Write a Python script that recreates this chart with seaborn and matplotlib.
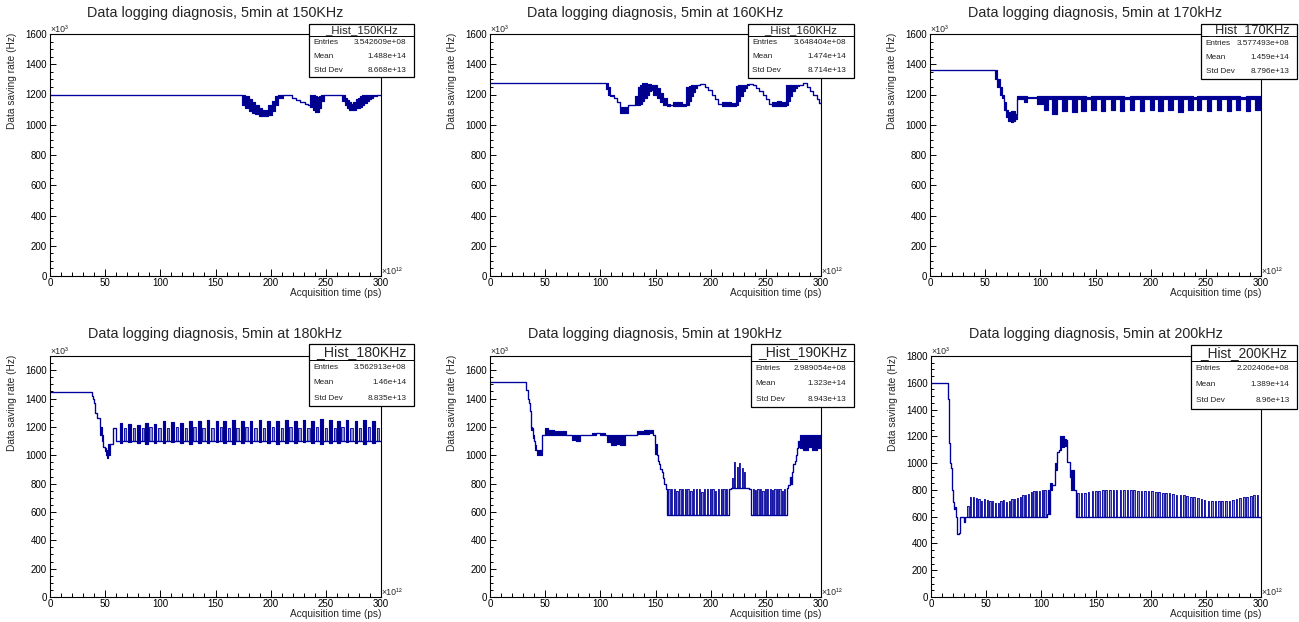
import matplotlib
matplotlib.use("Agg")
import matplotlib.pyplot as plt
from matplotlib.patches import Rectangle
from matplotlib.lines import Line2D
from matplotlib.ticker import MultipleLocator
import pandas as pd
import seaborn as sns

# ---------------------------------------------------------------- data
titles = ["Data logging diagnosis, 5min at 150KHz", "Data logging diagnosis, 5min at 160KHz",
          "Data logging diagnosis, 5min at 170kHz", "Data logging diagnosis, 5min at 180kHz",
          "Data logging diagnosis, 5min at 190kHz", "Data logging diagnosis, 5min at 200kHz"]
hist_names = ["_Hist_150KHz", "_Hist_160KHz", "_Hist_170KHz", "_Hist_180KHz", "_Hist_190KHz", "_Hist_200KHz"]
stat_labels = ["Entries", "Mean", "Std Dev"]
entries = ["3.542609e+08", "3.648404e+08", "3.577493e+08", "3.562913e+08", "2.989054e+08", "2.202406e+08"]
means = ["1.488e+14", "1.474e+14", "1.459e+14", "1.46e+14", "1.323e+14", "1.389e+14"]
stds = ["8.668e+13", "8.714e+13", "8.796e+13", "8.835e+13", "8.943e+13", "8.96e+13"]
y_max = [1600, 1600, 1600, 1700, 1700, 1800]
x_max = 300
x_label = "Acquisition time (ps)"
y_label = "Data saving rate (Hz)"

# step histograms: bin edge (x1e12 ps), upper / lower envelope (x1e3 Hz)
t150 = [0, 174, 177, 180, 183, 186, 189, 192, 195, 198, 201, 204, 207, 211, 215, 219, 223, 227, 231, 234,
        236, 238, 240, 242, 244, 246, 248, 263, 265, 267, 269, 271, 273, 275, 277, 279, 281, 283, 285, 287,
        289, 291, 293, 296, 300]
hi150 = [1200, 1200, 1190, 1170, 1150, 1130, 1110, 1100, 1100, 1130, 1160, 1190, 1200, 1200, 1195, 1180, 1165, 1150, 1140, 1130,
         1200, 1200, 1190, 1185, 1190, 1200, 1200, 1200, 1195, 1180, 1165, 1150, 1140, 1150, 1170, 1180, 1190, 1195, 1200, 1200,
         1200, 1200, 1200, 1200, 1200]
lo150 = [1200, 1130, 1110, 1090, 1080, 1070, 1060, 1060, 1055, 1065, 1090, 1130, 1180, 1200, 1195, 1180, 1165, 1150, 1140, 1130,
         1120, 1100, 1085, 1085, 1110, 1160, 1200, 1200, 1160, 1130, 1110, 1100, 1095, 1100, 1110, 1110, 1120, 1130, 1145, 1160,
         1170, 1180, 1190, 1200, 1200]

t160 = [0, 105, 107, 109, 112, 115, 118, 121, 125, 128, 131, 134, 136, 138, 140, 142, 144, 146, 148, 151,
        154, 157, 160, 163, 166, 170, 174, 178, 180, 182, 184, 186, 188, 190, 192, 195, 198, 201, 204, 207,
        210, 214, 218, 223, 225, 227, 229, 231, 233, 235, 238, 241, 244, 247, 250, 253, 256, 260, 264, 268,
        270, 272, 274, 276, 278, 280, 284, 287, 290, 293, 296, 298, 300]
hi160 = [1275, 1275, 1250, 1200, 1180, 1150, 1120, 1115, 1130, 1130, 1190, 1250, 1265, 1275, 1275, 1270, 1270, 1265, 1260, 1240,
         1210, 1180, 1140, 1130, 1150, 1150, 1140, 1250, 1255, 1260, 1260, 1265, 1265, 1270, 1270, 1250, 1230, 1200, 1170, 1140,
         1150, 1150, 1145, 1255, 1260, 1265, 1265, 1265, 1270, 1270, 1265, 1240, 1220, 1200, 1170, 1140, 1150, 1155, 1150, 1260,
         1265, 1265, 1265, 1265, 1265, 1260, 1275, 1250, 1220, 1200, 1170, 1145, 1140]
lo160 = [1275, 1235, 1200, 1190, 1180, 1150, 1080, 1075, 1130, 1130, 1130, 1130, 1140, 1160, 1180, 1200, 1220, 1230, 1200, 1180,
         1150, 1130, 1125, 1130, 1125, 1125, 1125, 1130, 1160, 1190, 1215, 1240, 1260, 1270, 1270, 1250, 1230, 1200, 1170, 1140,
         1125, 1125, 1125, 1130, 1160, 1190, 1220, 1245, 1260, 1270, 1265, 1240, 1220, 1200, 1170, 1140, 1125, 1125, 1125, 1130,
         1160, 1190, 1220, 1245, 1255, 1260, 1275, 1250, 1220, 1200, 1170, 1145, 1140]

t170 = [0, 59, 61, 63, 65, 67, 69, 71, 73, 75, 77, 79, 85, 88, 97, 103, 107, 111, 115, 120,
        124, 129, 133, 137, 141, 146, 150, 155, 159, 164, 168, 172, 176, 181, 185, 190, 194, 199, 203, 207,
        211, 216, 220, 225, 229, 234, 238, 242, 246, 251, 255, 260, 264, 269, 273, 277, 281, 286, 290, 295,
        300]
hi170 = [1360, 1360, 1300, 1250, 1200, 1150, 1100, 1085, 1090, 1090, 1070, 1190, 1190, 1185, 1190, 1190, 1190, 1190, 1190, 1190,
         1190, 1190, 1190, 1190, 1185, 1190, 1190, 1190, 1190, 1190, 1190, 1190, 1185, 1190, 1190, 1190, 1190, 1190, 1190, 1190,
         1190, 1190, 1190, 1190, 1190, 1190, 1185, 1190, 1190, 1190, 1190, 1190, 1190, 1190, 1190, 1190, 1185, 1190, 1190, 1190,
         1190]
lo170 = [1360, 1300, 1250, 1200, 1180, 1100, 1050, 1025, 1020, 1025, 1040, 1170, 1150, 1180, 1140, 1100, 1170, 1070, 1170, 1090,
         1170, 1085, 1170, 1090, 1170, 1095, 1170, 1090, 1170, 1100, 1170, 1090, 1170, 1095, 1170, 1090, 1170, 1100, 1170, 1090,
         1170, 1095, 1170, 1085, 1170, 1100, 1170, 1095, 1170, 1090, 1170, 1095, 1170, 1090, 1170, 1100, 1170, 1090, 1170, 1095,
         1095]

t180 = [0, 38, 39, 40, 41, 43, 45, 47, 48, 50, 51, 52, 53, 54, 57, 60,
        63, 65.5, 71, 73.5, 79, 81.5, 86, 88.5, 94, 96.5, 102, 104.5, 110, 112.5, 118, 120.5, 126, 128.5, 134, 136.5,
        142, 144.5, 150, 152.5, 157, 159.5, 165, 167.5, 173, 175.5, 181, 183.5, 189, 191.5, 197, 199.5, 205, 207.5,
        213, 215.5, 221, 223.5, 229, 231.5, 237, 239.5, 245, 247.5, 253, 255.5, 260, 262.5, 268, 270.5, 276, 278.5,
        284, 286.5, 292, 294.5, 300]
hi180 = [1445, 1420, 1400, 1370, 1300, 1260, 1200, 1140, 1060, 1050, 1040, 1030, 1080, 1080, 1190, 1100,
         1230, 1100, 1220, 1100, 1215, 1100, 1225, 1100, 1220, 1100, 1240, 1100, 1235, 1100, 1230, 1100, 1245, 1100, 1240, 1100,
         1250, 1100, 1245, 1100, 1240, 1100, 1250, 1100, 1240, 1100, 1245, 1100, 1250, 1100, 1240, 1100, 1245, 1100,
         1250, 1100, 1240, 1100, 1250, 1100, 1245, 1100, 1255, 1100, 1250, 1100, 1245, 1100, 1250, 1100, 1240, 1100,
         1250, 1100, 1245, 1100, 1100]
lo180 = [1445, 1420, 1400, 1370, 1300, 1260, 1140, 1100, 1060, 1030, 1000, 980, 1000, 1080, 1190, 1100,
         1085, 1100, 1090, 1100, 1085, 1100, 1080, 1100, 1085, 1100, 1085, 1100, 1090, 1100, 1085, 1100, 1080, 1100, 1085, 1100,
         1085, 1100, 1090, 1100, 1085, 1100, 1080, 1100, 1085, 1100, 1085, 1100, 1090, 1100, 1085, 1100, 1080, 1100,
         1085, 1100, 1085, 1100, 1090, 1100, 1085, 1100, 1080, 1100, 1085, 1100, 1085, 1100, 1090, 1100, 1085, 1100,
         1080, 1100, 1085, 1100, 1100]

t190 = [0, 33, 34, 35, 36, 37, 38, 39, 40, 41, 42, 43, 45, 46, 47, 50, 53, 58, 63, 69,
        74, 78, 82, 92, 96, 100, 104, 106, 110, 114, 118, 122, 133, 140, 144, 148, 149.5, 151, 152.5, 153.5,
        154.5, 156, 157, 158, 159.5, 160.5, 217, 218.5, 233, 235, 237, 269, 270.5, 271.5, 272.5, 273.5, 274.5, 276, 277, 278,
        279, 280, 281, 284, 288, 292, 296, 300]
hi190 = [1520, 1460, 1400, 1370, 1310, 1200, 1190, 1140, 1100, 1070, 1040, 1040, 1040, 1040, 1140, 1190, 1175, 1170, 1170, 1140,
         1140, 1140, 1140, 1160, 1155, 1160, 1140, 1140, 1140, 1140, 1140, 1140, 1170, 1175, 1180, 1140, 1080, 1000, 960, 940,
         900, 880, 840, 800, 760, 575, 760, 770, 770, 760, 575, 770, 790, 850, 800, 880, 940, 960, 1000, 1050,
         1100, 1060, 1140, 1140, 1140, 1140, 1145, 1145]
lo190 = [1520, 1460, 1400, 1370, 1310, 1180, 1190, 1120, 1100, 1040, 1040, 1000, 1040, 1000, 1140, 1140, 1145, 1140, 1145, 1140,
         1110, 1100, 1140, 1140, 1155, 1140, 1140, 1090, 1070, 1080, 1070, 1140, 1150, 1150, 1155, 1140, 1010, 1000, 960, 940,
         900, 880, 840, 800, 760, 575, 760, 770, 770, 760, 575, 770, 790, 850, 800, 880, 940, 960, 1000, 1050,
         1100, 1060, 1050, 1040, 1060, 1040, 1050, 1050]

t200 = [0, 15, 16, 17, 18, 19, 20, 20.6, 21.5, 22.3, 23.6, 25, 26.6, 29.7, 31, 105.5, 106.5, 107.3, 108, 110,
        113, 114.4, 116, 117, 118.4, 120.5, 123, 124, 126, 126.6, 127, 129.6, 132, 300]
hi200 = [1600, 1480, 1150, 1000, 960, 800, 710, 660, 670, 600, 470, 480, 600, 560, 600, 620, 800, 620, 850, 840,
         1000, 1080, 1100, 1200, 1200, 1180, 1170, 1010, 1000, 900, 950, 800, 600, 600]
lo200 = [1600, 1480, 1150, 1000, 960, 800, 710, 660, 670, 600, 470, 480, 600, 560, 600, 620, 800, 620, 800, 840,
         950, 1080, 1100, 1100, 1120, 1130, 1170, 1010, 1000, 900, 800, 800, 600, 600]

# square pulse trains: start of each pulse, pulse top, baseline, pulse width
p180_x = [67, 75, 83, 90, 98, 106, 114, 122, 130, 138, 146, 154, 161, 169, 177, 185, 193, 201, 209, 217,
          225, 233, 241, 249, 257, 264, 272, 280, 288, 296]
p180_top = [1190, 1195, 1190, 1200, 1195, 1190, 1200, 1195, 1200, 1190, 1195, 1200, 1195, 1190, 1200, 1195, 1190, 1200, 1195, 1200,
            1190, 1195, 1200, 1195, 1190, 1200, 1195, 1190, 1200, 1195]
p190a_x = [161.5, 164, 166.5, 169, 171.5, 174, 176.5, 179, 181.5, 184, 186.5, 189, 191.5, 194, 196.5, 199,
           201.5, 204, 206.5, 209, 211.5, 214]
p190a_top = [760, 760, 760, 750, 760, 760, 760, 760, 750, 760, 760, 760, 740, 760, 760, 760,
             760, 750, 760, 760, 760, 760]
p190b_x = [219, 221.5, 224, 226, 228, 230.5]
p190b_top = [840, 950, 920, 945, 910, 880]
p190c_x = [238, 240.2, 242.4, 244.6, 246.8, 249, 251.2, 253.4, 255.6, 257.8, 260, 262.2, 264.4, 266.6]
p190c_top = [760, 755, 760, 760, 750, 760, 760, 760, 755, 760, 760, 760, 750, 760]
p200a_x = [33, 35.5, 38, 40.5, 43, 45.5, 48, 50.5, 53, 55.5, 58, 60.5, 63, 65.5, 68, 70.5, 73, 75.5, 78, 80.5,
           83, 85.5, 88, 90.5, 93, 95.5, 98, 100.5, 103]
p200a_top = [680, 745, 745, 740, 735, 720, 730, 725, 720, 720, 705, 705, 720, 725, 710, 720, 735, 735, 740, 745,
             760, 765, 770, 785, 790, 790, 795, 800, 800]
p200c_x = [133, 136, 139.5, 142.5, 146, 149, 152, 155.5, 158.5, 162, 165, 168, 171.5, 174.5, 178, 181, 184, 187.5,
           190.5, 194, 197, 200, 203.5, 206.5, 210, 213, 216, 219.5, 222.5, 226, 229, 232, 235.5, 238.5, 242, 245,
           248, 251.5, 254.5, 258, 261, 264, 267.5, 270.5, 274, 277, 280, 283.5, 286.5, 290, 293, 296]
p200c_top = [780, 780, 780, 785, 790, 790, 795, 800, 800, 800, 800, 800, 800, 800, 800, 800, 800, 795,
             795, 790, 790, 790, 785, 785, 780, 780, 775, 770, 765, 760, 760, 755, 750, 745, 740, 730,
             725, 720, 720, 720, 720, 715, 715, 720, 725, 730, 740, 745, 750, 755, 760, 760]

bands = [(t150, hi150, lo150), (t160, hi160, lo160), (t170, hi170, lo170),
         (t180, hi180, lo180), (t190, hi190, lo190), (t200, hi200, lo200)]
pulses = [[], [], [],
          [(p180_x, p180_top, 1100, 2.2)],
          [(p190a_x, p190a_top, 575, 1.2), (p190b_x, p190b_top, 770, 1.0), (p190c_x, p190c_top, 575, 1.1)],
          [(p200a_x, p200a_top, 600, 1.2), (p200c_x, p200c_top, 600, 1.5)]]

# ---------------------------------------------------------------- style / layout
sns.set_theme(style="white")
plt.rcParams["font.family"] = ["Liberation Sans", "DejaVu Sans"]

W, H = 1299, 622
LINE = "#00009c"
FILL = "#00008c"
LIGHT = "#8f8fd2"
LW = 0.85
PULSE_LW = 0.6
AXES_PX = [(50, 34, 381, 276), (490, 34, 821, 276), (930, 34, 1261, 276),
           (50, 356, 381, 597), (490, 356, 821, 597), (931, 356, 1261, 597)]
TITLE_DY = [20.7, 20.7, 20.7, 21.7, 21.7, 21.7]
# left, top, right, bottom, separator y, title size
BOX_PX = [(309, 24, 414, 77, 35.7, 8.2), (748, 24, 854, 78, 36, 8.2), (1201, 24, 1297, 79, 36, 9.2),
          (309, 344, 414, 406, 359.5, 10.2), (751, 344, 854, 407, 360.7, 10.1), (1191, 345, 1297, 409, 360.7, 9.8)]


def fx(x):
    return x / W


def fy(y):
    return 1 - y / H


fig = plt.figure(figsize=(W / 100, H / 100), dpi=100)
fig.patch.set_facecolor("white")

for i in range(6):
    l, t, r, b = AXES_PX[i]
    aw, ah = r - l, b - t
    ax = fig.add_axes([fx(l), fy(b), aw / W, ah / H])
    ax.set_facecolor("white")

    # pulse trains (light interior, dark outline)
    for xs, tops, base, w in pulses[i]:
        px, py = [], []
        for s, h in zip(xs, tops):
            px += [s, s, s + w, s + w]
            py += [base, h, h, base]
        ax.fill_between(px, [base] * len(px), py, color=LIGHT, lw=0)
        sns.lineplot(x=px, y=py, ax=ax, color=LINE, lw=PULSE_LW, estimator=None, sort=False)

    tt, hh, ll = bands[i]
    df = pd.DataFrame({"t": tt, "hi": hh, "lo": ll})
    ax.fill_between(df["t"], df["lo"], df["hi"], step="post", color=FILL, lw=0)
    sns.lineplot(data=df, x="t", y="hi", ax=ax, color=LINE, lw=LW, drawstyle="steps-post",
                 estimator=None, sort=False)
    sns.lineplot(data=df, x="t", y="lo", ax=ax, color=LINE, lw=LW, drawstyle="steps-post",
                 estimator=None, sort=False)

    ax.set_xlim(0, x_max)
    ax.set_ylim(0, y_max[i])
    ax.xaxis.set_major_locator(MultipleLocator(50))
    ax.xaxis.set_minor_locator(MultipleLocator(10))
    ax.yaxis.set_major_locator(MultipleLocator(200))
    ax.yaxis.set_minor_locator(MultipleLocator(50))
    ax.tick_params(which="both", direction="in", bottom=True, left=True, top=False, right=False,
                   colors="black", labelsize=7, width=0.7)
    ax.tick_params(axis="x", which="major", length=5.4, pad=1.5)
    ax.tick_params(axis="x", which="minor", length=2.9)
    ax.tick_params(axis="y", which="major", length=4.3, pad=2.2)
    ax.tick_params(axis="y", which="minor", length=2.2)
    for sp in ax.spines.values():
        sp.set_visible(True)
        sp.set_color("black")
        sp.set_linewidth(0.8)

    ax.text(0.5, 1 + TITLE_DY[i] / ah, titles[i], transform=ax.transAxes, fontsize=10.4,
            ha="center", va="center")
    ax.set_xlabel(x_label, fontsize=7.3, ha="right", va="center")
    ax.xaxis.set_label_coords(1.0, -16.7 / ah)
    ax.set_ylabel(y_label, fontsize=7.3, ha="right", va="center")
    ax.yaxis.set_label_coords(-38.3 / aw, 1 + 1 / ah)
    ax.text(0.0, 1 + 4.5 / ah, "\u00d710\u00b3", transform=ax.transAxes, fontsize=6.3,
            ha="left", va="center")
    ax.text(1.0, 4.5 / ah, "\u00d710\u00b9\u00b2", transform=ax.transAxes, fontsize=6.3,
            ha="left", va="center")

    # statistics box
    bl, bt, br, bb, sep, tsize = BOX_PX[i]
    fig.add_artist(Rectangle((fx(bl), fy(bb)), (br - bl) / W, (bb - bt) / H, transform=fig.transFigure,
                             facecolor="white", edgecolor="black", lw=0.9, zorder=10))
    fig.add_artist(Line2D([fx(bl), fx(br)], [fy(sep), fy(sep)], transform=fig.transFigure,
                          color="black", lw=0.7, zorder=11))
    fig.text(fx((bl + br) / 2), fy((bt + sep) / 2), hist_names[i], fontsize=tsize,
             ha="center", va="center", zorder=12)
    step = (bb - sep) / 3
    for k, (lab, val) in enumerate(zip(stat_labels, [entries[i], means[i], stds[i]])):
        yy = sep + (k + 0.5) * step
        fig.text(fx(bl + 4.5), fy(yy), lab, fontsize=5.9, ha="left", va="center", color="#222222", zorder=12)
        fig.text(fx(br - 7.5), fy(yy), val, fontsize=5.9, ha="right", va="center", color="#222222", zorder=12)

fig.savefig("out.png", dpi=100, facecolor="white")
